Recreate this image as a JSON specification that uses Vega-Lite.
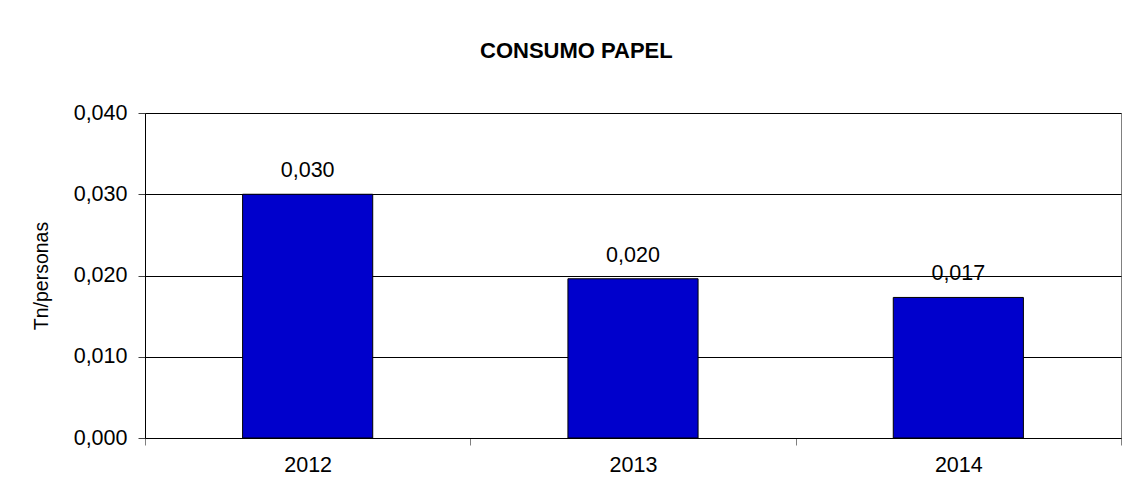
{
  "$schema": "https://vega.github.io/schema/vega-lite/v6.json",
  "autosize": {"type": "none"},
  "width": 976,
  "height": 325,
  "padding": {"left": 145, "top": 113, "right": 13, "bottom": 66},
  "background": "white",
  "title": {
    "text": "CONSUMO PAPEL",
    "font": "Liberation Sans",
    "fontSize": 22,
    "fontWeight": "bold",
    "color": "black",
    "anchor": "middle",
    "frame": "bounds",
    "offset": 39
  },
  "data": {
    "values": [
      {"year": "2012", "value": 0.0300},
      {"year": "2013", "value": 0.0196},
      {"year": "2014", "value": 0.0173}
    ]
  },
  "encoding": {
    "x": {
      "field": "year",
      "type": "nominal",
      "scale": {"paddingInner": 0, "paddingOuter": 0},
      "axis": {
        "title": null,
        "labelAngle": 0,
        "tickBand": "extent",
        "grid": false,
        "domainColor": "black",
        "tickColor": "#808080",
        "tickSize": 7,
        "labelPadding": 9,
        "labelFont": "Liberation Sans",
        "labelFontSize": 21.5,
        "labelColor": "black"
      }
    },
    "y": {
      "field": "value",
      "type": "quantitative",
      "scale": {"domain": [0, 0.04], "nice": false},
      "axis": {
        "title": "Tn/personas",
        "titleFont": "Liberation Sans",
        "titleFontSize": 19.5,
        "titleFontWeight": "normal",
        "titleColor": "black",
        "titlePadding": 22,
        "values": [0, 0.01, 0.02, 0.03, 0.04],
        "format": ".3f",
        "grid": true,
        "gridColor": "black",
        "gridWidth": 1,
        "domainColor": "black",
        "tickColor": "#404040",
        "tickSize": 7,
        "labelPadding": 11,
        "labelFont": "Liberation Sans",
        "labelFontSize": 21.5,
        "labelColor": "black"
      }
    }
  },
  "layer": [
    {
      "mark": {"type": "bar", "width": {"band": 0.4}, "fill": "#0000CC", "stroke": "black", "strokeWidth": 1}
    },
    {
      "mark": {"type": "text", "baseline": "bottom", "dy": -12, "font": "Liberation Sans", "fontSize": 21.5, "color": "black"},
      "encoding": {
        "text": {"field": "value", "type": "quantitative", "format": ".3f"}
      }
    }
  ],
  "config": {
    "locale": {
      "number": {"decimal": ",", "thousands": ".", "grouping": [3], "currency": ["", " €"]}
    },
    "view": {"stroke": "#808080", "strokeWidth": 1}
  }
}
